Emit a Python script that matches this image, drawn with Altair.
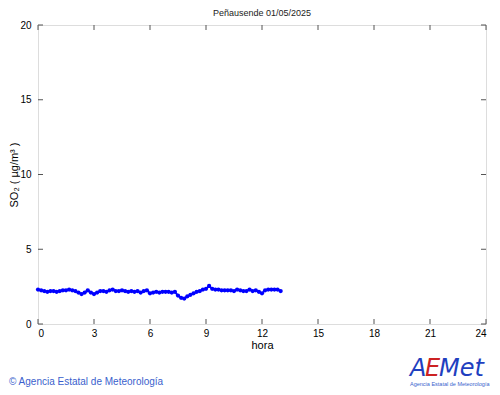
import altair as alt
import pandas as pd

title_text = "Peñausende 01/05/2025"
hours_step = 1 / 6
so2_values = [
    2.3, 2.25, 2.2, 2.15, 2.2, 2.2,
    2.15, 2.2, 2.25, 2.25, 2.3, 2.25,
    2.2, 2.1, 2.0, 2.1, 2.25, 2.1,
    2.0, 2.1, 2.2, 2.2, 2.15, 2.25,
    2.3, 2.2, 2.2, 2.25, 2.2, 2.15,
    2.2, 2.15, 2.2, 2.1, 2.2, 2.25,
    2.05, 2.1, 2.15, 2.1, 2.15, 2.15,
    2.15, 2.1, 2.15, 1.9, 1.75, 1.7,
    1.85, 1.95, 2.05, 2.15, 2.2, 2.3,
    2.35, 2.55, 2.35, 2.3, 2.3, 2.25,
    2.25, 2.25, 2.25, 2.2, 2.3, 2.25,
    2.2, 2.2, 2.3, 2.2, 2.25, 2.15,
    2.05, 2.25, 2.3, 2.3, 2.3, 2.3,
    2.2,
]
x_ticks = [0, 3, 6, 9, 12, 15, 18, 21, 24]
y_ticks = [0, 5, 10, 15, 20]

W, H = 448, 299
df = pd.DataFrame({"hora": [i * hours_step for i in range(len(so2_values))], "so2": so2_values})
xt = pd.DataFrame({"t": x_ticks})
yt = pd.DataFrame({"t": y_ticks})

xs = alt.Scale(domain=[0, 24], nice=False, zero=False)
ys = alt.Scale(domain=[0, 20], nice=False)
FONT = "Liberation Sans"
TXT = "#222222"

base = alt.Chart(df)
line = base.mark_line(color="#0000ff", strokeWidth=2).encode(
    x=alt.X("hora:Q", scale=xs, axis=alt.Axis(values=x_ticks, title="hora", tickSize=0,
                                                labelPadding=4, titlePadding=1, grid=False,
                                                domain=False, titleFontWeight="normal")),
    y=alt.Y("so2:Q", scale=ys, axis=alt.Axis(values=y_ticks, title="SO₂ ( µg/m³ )", tickSize=0,
                                               labelPadding=7, titlePadding=0, grid=False,
                                               domain=False, titleFontWeight="normal")),
)
pts = base.mark_circle(color="#0000ff", size=18, opacity=1).encode(x="hora:Q", y="so2:Q")

tick_col = "#555555"
xb = alt.Chart(xt).mark_rule(color=tick_col).encode(x=alt.X("t:Q", scale=xs), y=alt.value(H), y2=alt.value(H - 5))
xtop = alt.Chart(xt).mark_rule(color=tick_col).encode(x=alt.X("t:Q", scale=xs), y=alt.value(0), y2=alt.value(5))
yl = alt.Chart(yt).mark_rule(color=tick_col).encode(y=alt.Y("t:Q", scale=ys), x=alt.value(0), x2=alt.value(5))
yr = alt.Chart(yt).mark_rule(color=tick_col).encode(y=alt.Y("t:Q", scale=ys), x=alt.value(W), x2=alt.value(W - 5))

footer = alt.Chart(pd.DataFrame({"s": ["© Agencia Estatal de Meteorología"]})).mark_text(
    align="left", baseline="middle", color="#3a5fcd", fontSize=10, font=FONT
).encode(text="s:N", x=alt.value(-29), y=alt.value(357))

logo_parts = pd.DataFrame({
    "s": ["A", "E", "Met"],
    "c": ["#1f3fbf", "#cc2222", "#1f3fbf"],
    "px": [372, 387, 401],
})
logo = alt.Chart(logo_parts).mark_text(
    align="left", baseline="alphabetic", fontSize=24, font="DejaVu Sans", fontStyle="italic"
).encode(text="s:N", x=alt.X("px:Q", scale=None), y=alt.value(351),
         color=alt.Color("c:N", scale=None))
logo_sub = alt.Chart(pd.DataFrame({"s": ["Agencia Estatal de Meteorología"]})).mark_text(
    align="left", baseline="middle", color="#3a5fcd", fontSize=5.5, font=FONT
).encode(text="s:N", x=alt.value(372), y=alt.value(359))

chart = alt.layer(line, pts, xb, xtop, yl, yr, footer, logo, logo_sub).properties(
    width=W, height=H,
    title=alt.TitleParams(title_text, fontSize=9, font=FONT, fontWeight="normal", color=TXT, offset=2),
    padding={"left": 30, "top": 17, "right": 6, "bottom": 63},
    autosize=alt.AutoSizeParams(type="none"),
).configure_view(stroke="#666666", strokeWidth=1).configure_axis(
    labelFont=FONT, titleFont=FONT, labelFontSize=9, titleFontSize=9,
    labelColor=TXT, titleColor=TXT, titleFontWeight="normal"
).configure(background="white")

chart.save("out.html", embed_options={"renderer": "svg", "actions": False})
